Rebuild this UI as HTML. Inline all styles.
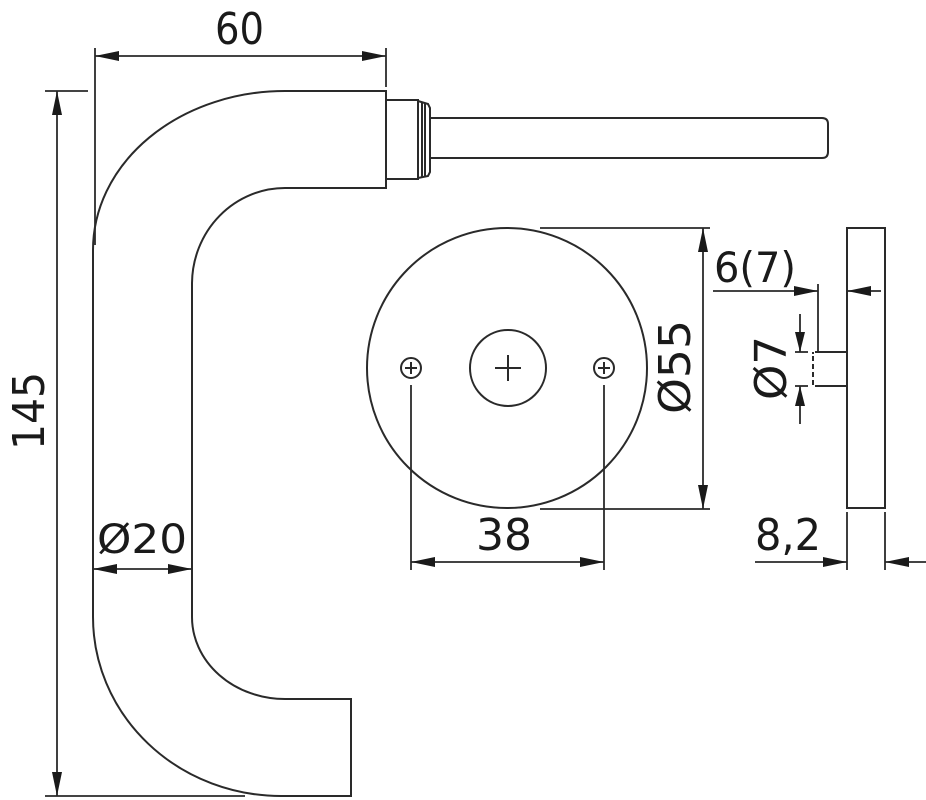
<!DOCTYPE html>
<html><head><meta charset="utf-8"><style>html,body{margin:0;padding:0;background:#fff}svg{display:block}</style></head>
<body>
<svg width="926" height="800" viewBox="0 0 926 800" xmlns="http://www.w3.org/2000/svg">
<g fill="none" stroke="#2a2a2a" stroke-width="2">
<!-- handle -->
<path d="M93,250 L93,617 A188,179 0 0 0 281,796 L351,796 L351,699 L285,699 A93,82 0 0 1 192,617 L192,283 A93,96 0 0 1 285,188 L386,188 L386,91 L285,91 A192,159 0 0 0 93,250"/>
<rect x="386" y="100" width="32" height="79"/>
<path d="M418,101 L428,104 L430,108 L430,172 L428,176 L418,178 Z"/>
<line x1="422" y1="102" x2="422" y2="177"/><line x1="425" y1="103" x2="425" y2="177"/>
<path d="M430,118 L822,118 Q828,118 828,124 L828,152 Q828,158 822,158 L430,158"/>
<!-- rose -->
<circle cx="507" cy="368" r="140"/>
<circle cx="508" cy="368" r="38"/>
<path d="M495,368 H521 M508,355 V381"/>
<circle cx="411" cy="368" r="10"/><path d="M405,368 H417 M411,362 V374"/>
<circle cx="604" cy="368" r="10"/><path d="M598,368 H610 M604,362 V374"/>
<!-- side -->
<rect x="847" y="228" width="38" height="280"/>
<path d="M847,352 H815 M847,386 H815 M813,352 V354"/>
<line x1="813" y1="356" x2="813" y2="386" stroke-dasharray="5,3"/>
</g>
<g fill="none" stroke="#2a2a2a" stroke-width="1.8">
<line x1="95" y1="48" x2="95" y2="245"/><line x1="386" y1="48" x2="386" y2="87"/>
<line x1="95" y1="56" x2="386" y2="56"/>
<line x1="45" y1="91" x2="88" y2="91"/><line x1="45" y1="796" x2="245" y2="796"/>
<line x1="57" y1="91" x2="57" y2="796"/>
<line x1="93" y1="569" x2="192" y2="569"/>
<line x1="411" y1="385" x2="411" y2="570"/><line x1="604" y1="385" x2="604" y2="570"/>
<line x1="411" y1="562" x2="604" y2="562"/>
<line x1="540" y1="228" x2="710" y2="228"/><line x1="540" y1="509" x2="710" y2="509"/>
<line x1="703" y1="228" x2="703" y2="509"/>
<line x1="818" y1="284" x2="818" y2="352"/>
<line x1="713" y1="291" x2="818" y2="291"/>
<line x1="881" y1="291" x2="847" y2="291"/>
<line x1="795" y1="352" x2="808" y2="352"/><line x1="795" y1="386" x2="808" y2="386"/>
<line x1="800" y1="314" x2="800" y2="352"/>
<line x1="800" y1="424" x2="800" y2="386"/>
<line x1="847" y1="512" x2="847" y2="570"/><line x1="885" y1="512" x2="885" y2="570"/>
<line x1="755" y1="562" x2="847" y2="562"/>
<line x1="926" y1="562" x2="885" y2="562"/>
</g>
<g fill="#1a1a1a">
<!-- arrowheads: tip, then base -->
<path d="M95,56 L119,51 L119,61Z"/><path d="M386,56 L362,51 L362,61Z"/>
<path d="M57,91 L52,115 L62,115Z"/><path d="M57,796 L52,772 L62,772Z"/>
<path d="M93,569 L117,564 L117,574Z"/><path d="M192,569 L168,564 L168,574Z"/>
<path d="M411,562 L435,557 L435,567Z"/><path d="M604,562 L580,557 L580,567Z"/>
<path d="M703,228 L698,252 L708,252Z"/><path d="M703,509 L698,485 L708,485Z"/>
<path d="M818,291 L794,286 L794,296Z"/><path d="M847,291 L871,286 L871,296Z"/>
<path d="M800,352 L795,332 L805,332Z"/><path d="M800,386 L795,406 L805,406Z"/>
<path d="M847,562 L823,557 L823,567Z"/><path d="M885,562 L909,557 L909,567Z"/>
</g>
<g font-family="'DejaVu Sans Condensed','DejaVu Sans','Liberation Sans',sans-serif" font-size="44" fill="#1a1a1a">
<text x="215" y="44" textLength="49" lengthAdjust="spacingAndGlyphs">60</text>
<text transform="translate(44,450) rotate(-90)" textLength="78" lengthAdjust="spacingAndGlyphs">145</text>
<text x="97" y="553" font-size="40" textLength="90" lengthAdjust="spacingAndGlyphs">Ø20</text>
<text x="476" y="550" textLength="56" lengthAdjust="spacingAndGlyphs">38</text>
<text transform="translate(690,414) rotate(-90)" textLength="94" lengthAdjust="spacingAndGlyphs">Ø55</text>
<text x="714" y="282" font-size="42" textLength="82" lengthAdjust="spacingAndGlyphs">6(7)</text>
<text transform="translate(786,400) rotate(-90)" textLength="64" lengthAdjust="spacingAndGlyphs">Ø7</text>
<text x="755" y="550" textLength="66" lengthAdjust="spacingAndGlyphs">8,2</text>
</g>
</svg>
</body></html>
